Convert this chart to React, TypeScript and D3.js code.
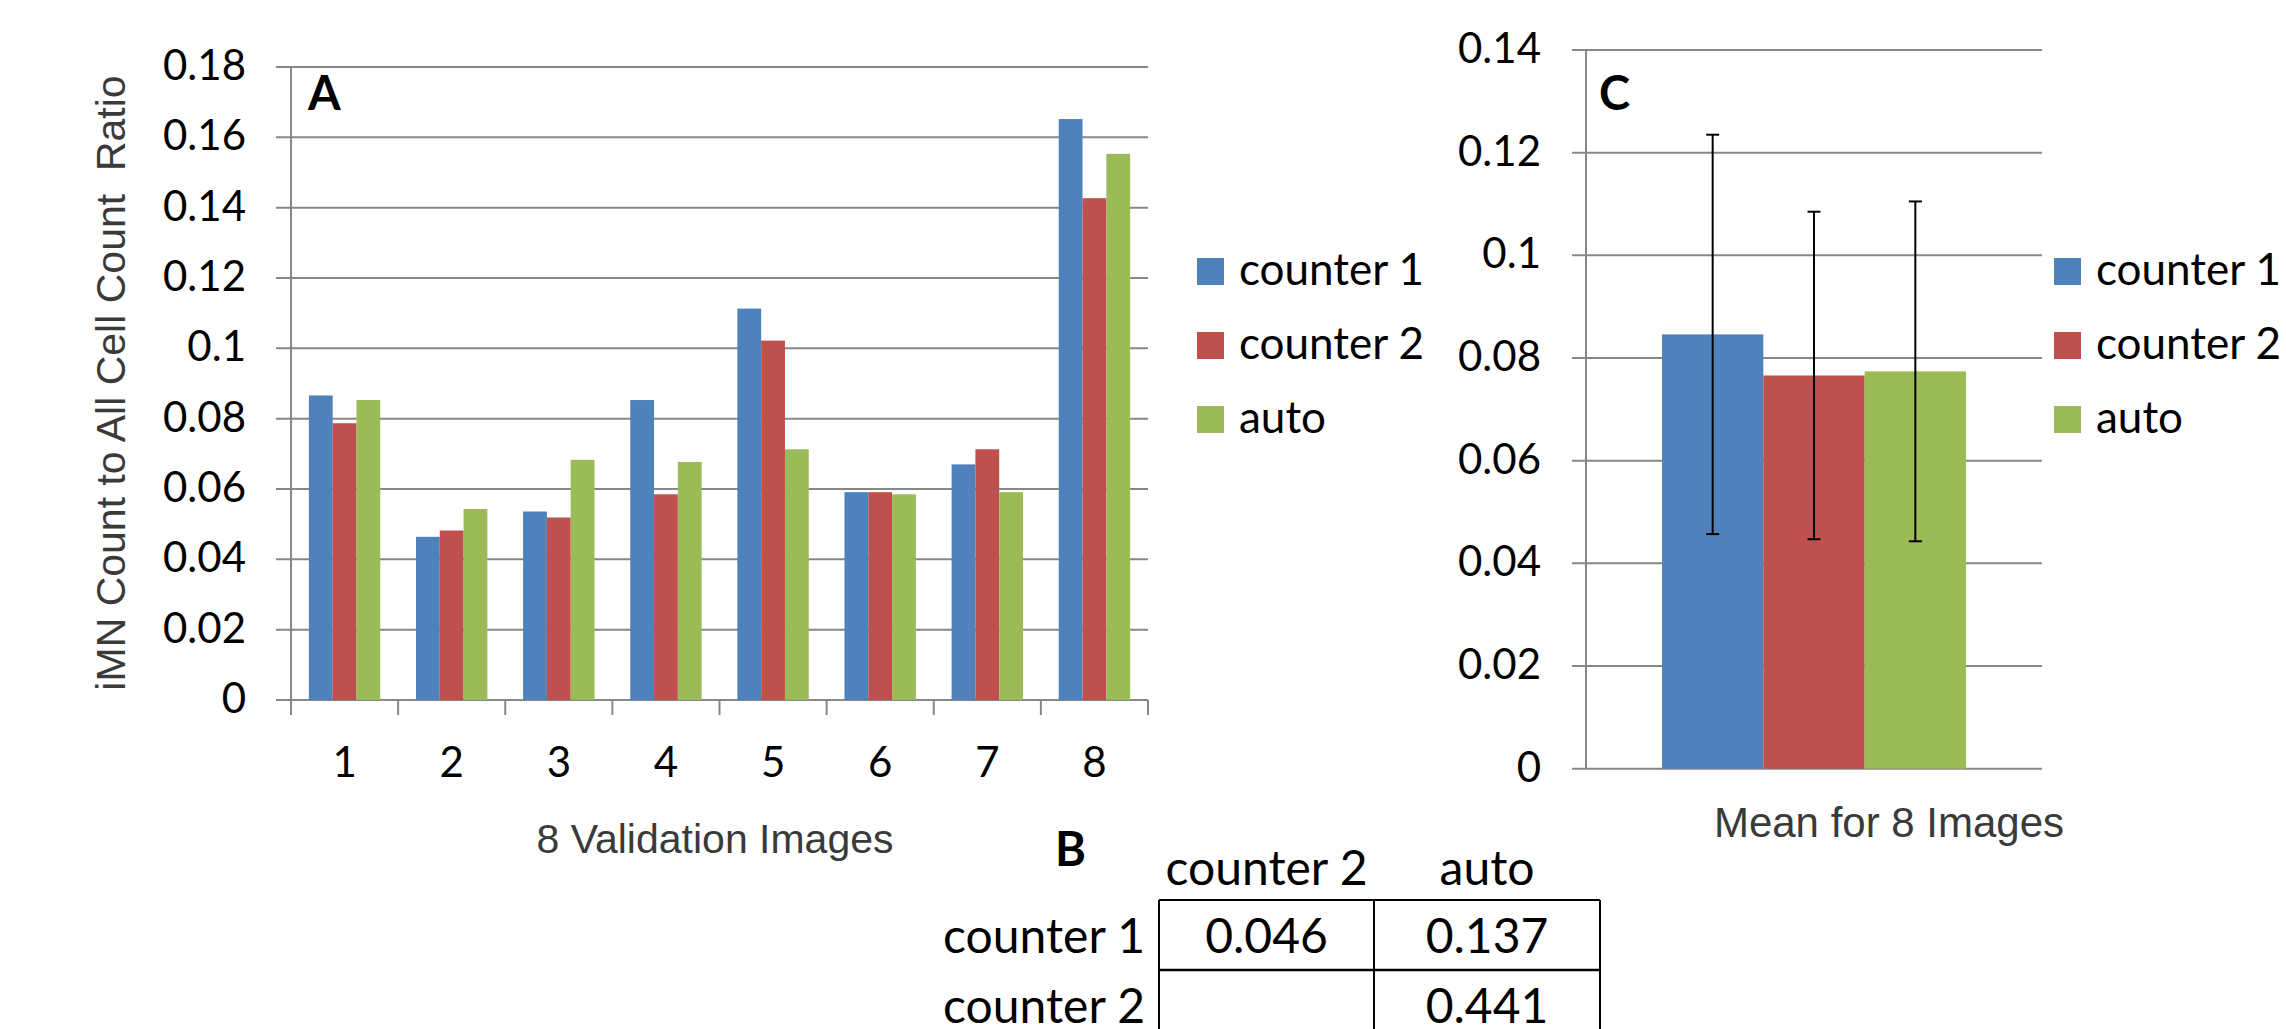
import * as d3 from 'd3';

const categories = ['1', '2', '3', '4', '5', '6', '7', '8'];
const seriesNames = ['counter 1', 'counter 2', 'auto'];
const counter1 = [0.0866, 0.0464, 0.0536, 0.0853, 0.1113, 0.0591, 0.067, 0.1652];
const counter2 = [0.0787, 0.0482, 0.0519, 0.0585, 0.1022, 0.0591, 0.0713, 0.1427];
const autoCount = [0.0853, 0.0543, 0.0683, 0.0677, 0.0713, 0.0585, 0.0591, 0.1553];
const yTicksA = [0, 0.02, 0.04, 0.06, 0.08, 0.1, 0.12, 0.14, 0.16, 0.18];

const meanCategory = ['Mean for 8 Images'];
const means = [0.0846, 0.0766, 0.0774];
const meanErrors = [0.0389, 0.0319, 0.0331];
const yTicksC = [0, 0.02, 0.04, 0.06, 0.08, 0.1, 0.12, 0.14];

const tableCols = ['counter 2', 'auto'];
const tableRows = ['counter 1', 'counter 2'];
const tableValues = [
  ['0.046', '0.137'],
  ['', '0.441'],
];

const colors = ['#4F81BD', '#C0504D', '#9BBB59'];
const gridColor = '#878787';
const calibri = 'Lato, "Open Sans", sans-serif';
const arial = '"Liberation Sans", Arial, sans-serif';

const fmt = (v: number) => String(+v.toFixed(2));

function Legend({ x, y }: { x: number; y: number }) {
  return (
    <g transform={`translate(${x},${y})`}>
      {seriesNames.map((name, i) => (
        <g key={name} transform={`translate(0,${i * 74})`}>
          <rect x={0} y={0} width={27} height={27} fill={colors[i]} />
          <text x={42} y={27} fontFamily={calibri} fontSize={44} fill="#000">
            {name}
          </text>
        </g>
      ))}
    </g>
  );
}

function ChartA() {
  const series = [counter1, counter2, autoCount];
  const x = d3.scaleBand().domain(categories).range([291, 1148]);
  const inner = d3.scaleBand().domain(seriesNames).range([0, x.bandwidth()]).paddingOuter(0.75);
  const y = d3.scaleLinear().domain([0, 0.18]).range([700, 67]);
  const edges = [...categories.map((c) => x(c) ?? 0), 1148];

  return (
    <g>
      {yTicksA.map((t) => (
        <g key={t}>
          <line x1={276} x2={1148} y1={y(t)} y2={y(t)} stroke={gridColor} strokeWidth={2} />
          <text x={246} y={y(t) + 13} textAnchor="end" fontFamily={calibri} fontSize={42}>
            {fmt(t)}
          </text>
        </g>
      ))}
      <line x1={291} x2={291} y1={y(0.18)} y2={715} stroke={gridColor} strokeWidth={2} />
      {edges.map((e, i) => (
        <line key={i} x1={e} x2={e} y1={y(0)} y2={715} stroke={gridColor} strokeWidth={2} />
      ))}
      {categories.map((c, ci) => (
        <g key={c}>
          {series.map((s, si) => (
            <rect
              key={si}
              x={(x(c) ?? 0) + (inner(seriesNames[si]) ?? 0)}
              y={y(s[ci])}
              width={inner.bandwidth()}
              height={y(0) - y(s[ci])}
              fill={colors[si]}
            />
          ))}
          <text
            x={(x(c) ?? 0) + x.bandwidth() / 2}
            y={777}
            textAnchor="middle"
            fontFamily={calibri}
            fontSize={42}
          >
            {c}
          </text>
        </g>
      ))}
      <text x={308} y={110} fontFamily={calibri} fontWeight="bold" fontSize={47}>
        A
      </text>
      <text
        transform="translate(125,383) rotate(-90)"
        textAnchor="middle"
        fontFamily={arial}
        fontSize={41}
        fill="#3a3a3a"
        style={{ whiteSpace: 'pre' }}
      >
        {'iMN Count to All Cell Count  Ratio'}
      </text>
      <text x={715} y={853} textAnchor="middle" fontFamily={arial} fontSize={41} fill="#3a3a3a">
        8 Validation Images
      </text>
      <Legend x={1197} y={258} />
    </g>
  );
}

function ChartC() {
  const x = d3.scaleBand().domain(meanCategory).range([1586, 2042]);
  const inner = d3.scaleBand().domain(seriesNames).range([0, x.bandwidth()]).paddingOuter(0.75);
  const y = d3.scaleLinear().domain([0, 0.14]).range([768.7, 50]);
  const x0 = x(meanCategory[0]) ?? 0;

  return (
    <g>
      {yTicksC.map((t) => (
        <g key={t}>
          <line x1={1572} x2={2042} y1={y(t)} y2={y(t)} stroke={gridColor} strokeWidth={2} />
          <text x={1541} y={y(t) + 13} textAnchor="end" fontFamily={calibri} fontSize={42}>
            {fmt(t)}
          </text>
        </g>
      ))}
      <line x1={1586} x2={1586} y1={y(0.14)} y2={y(0)} stroke={gridColor} strokeWidth={2} />
      {means.map((m, i) => {
        const bx = x0 + (inner(seriesNames[i]) ?? 0);
        const cx = bx + inner.bandwidth() / 2;
        const hi = y(m + meanErrors[i]);
        const lo = y(m - meanErrors[i]);
        return (
          <g key={i}>
            <rect x={bx} y={y(m)} width={inner.bandwidth()} height={y(0) - y(m)} fill={colors[i]} />
            <line x1={cx} x2={cx} y1={hi} y2={lo} stroke="#000" strokeWidth={2} />
            <line x1={cx - 6.5} x2={cx + 6.5} y1={hi} y2={hi} stroke="#000" strokeWidth={2} />
            <line x1={cx - 6.5} x2={cx + 6.5} y1={lo} y2={lo} stroke="#000" strokeWidth={2} />
          </g>
        );
      })}
      <text x={1599} y={110} fontFamily={calibri} fontWeight="bold" fontSize={47}>
        C
      </text>
      <text x={1889} y={837} textAnchor="middle" fontFamily={arial} fontSize={42} fill="#3a3a3a">
        {meanCategory[0]}
      </text>
      <Legend x={2054} y={258} />
    </g>
  );
}

function TableB() {
  const colX = [1159, 1374, 1600];
  const rowY = [900, 970, 1040];
  return (
    <g fontFamily={calibri} fontSize={48}>
      <text x={1055} y={866} fontWeight="bold" fontSize={47}>
        B
      </text>
      {tableCols.map((c, i) => (
        <text key={c} x={(colX[i] + colX[i + 1]) / 2} y={885} textAnchor="middle">
          {c}
        </text>
      ))}
      {tableRows.map((r, ri) => (
        <g key={r}>
          <text x={1145} y={rowY[ri] + 53} textAnchor="end">
            {r}
          </text>
          {tableValues[ri].map((v, ci) => (
            <text key={ci} x={(colX[ci] + colX[ci + 1]) / 2} y={rowY[ri] + 53} textAnchor="middle">
              {v}
            </text>
          ))}
        </g>
      ))}
      <line x1={colX[0]} x2={colX[2]} y1={rowY[0]} y2={rowY[0]} stroke="#000" strokeWidth={2} />
      <line x1={colX[0]} x2={colX[2]} y1={rowY[1]} y2={rowY[1]} stroke="#000" strokeWidth={2.5} />
      {colX.map((cx) => (
        <line key={cx} x1={cx} x2={cx} y1={rowY[0]} y2={1029} stroke="#000" strokeWidth={2} />
      ))}
    </g>
  );
}

export default function App() {
  return (
    <div style={{ position: 'absolute', left: 0, top: 0 }}>
      <svg width={2286} height={1029} viewBox="0 0 2286 1029" style={{ display: 'block', background: '#fff' }}>
        <rect width={2286} height={1029} fill="#fff" />
        <ChartA />
        <ChartC />
        <TableB />
      </svg>
    </div>
  );
}
